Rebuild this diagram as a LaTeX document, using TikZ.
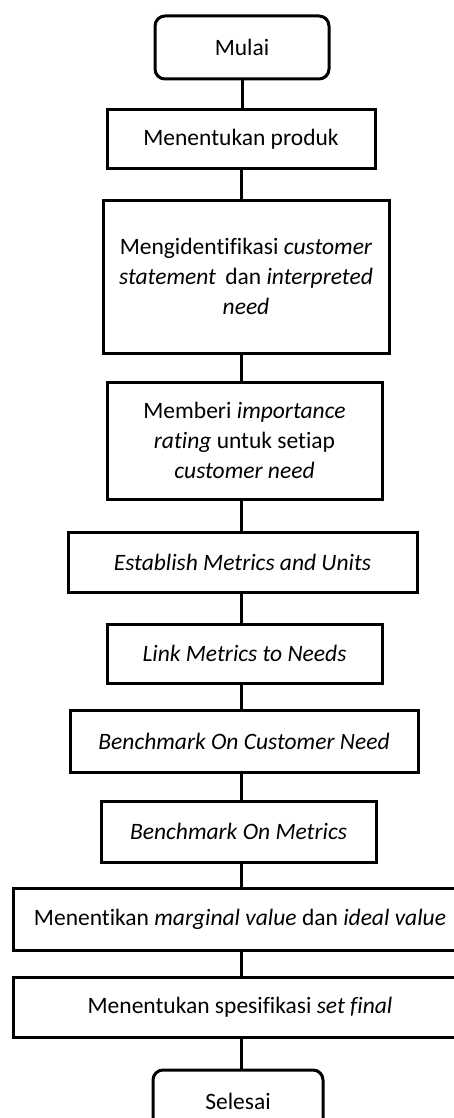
\documentclass[tikz,border=0pt]{standalone}
\usepackage{fontspec}
\setmainfont{Carlito}[Ligatures=NoCommon]
\usetikzlibrary{positioning}
\tikzset{ln/.style={line width=3pt}}
\tikzset{proc/.style={draw, ln, rectangle, align=center, inner sep=0pt, font=\fontsize{23.5}{30}\selectfont}}
\tikzset{term/.style={proc, rounded corners=10pt}}

\begin{document}
\begin{tikzpicture}[x=1pt,y=-1pt]
\useasboundingbox (0,0) rectangle (453,1118);

\node[term, minimum width=174pt, minimum height=63pt] (mulai) at (242,47.5) {Mulai};
\node[proc, minimum width=268pt, minimum height=59pt] (produk) at (241,139.5) {Menentukan produk};
\node[proc, minimum width=286pt, minimum height=153pt] (ident) at (246,276.5)
  {Mengidentifikasi \textit{customer}\\ \textit{statement}\, dan \textit{interpreted}\\ \textit{need}};
\node[proc, minimum width=275pt, minimum height=117pt] (rating) at (244.5,440.5)
  {Memberi \textit{importance}\\ \textit{rating} untuk setiap\\ \textit{customer need}};
\node[proc, minimum width=349pt, minimum height=60pt] (metric) at (242.5,562) {\textit{Establish Metrics and Units}};
\node[proc, minimum width=275pt, minimum height=59pt] (link) at (244.5,653.5) {\textit{Link Metrics to Needs}};
\node[proc, minimum width=348pt, minimum height=62pt] (bcn) at (244,741) {\textit{Benchmark On Customer Need}};
\node[proc, minimum width=275pt, minimum height=61pt] (bom) at (238.5,831.5) {\textit{Benchmark On Metrics}};
\node[proc, minimum width=454pt, minimum height=62pt] (value) at (240,919)
  {Menentikan \textit{marginal value} dan \textit{ideal value}};
\node[proc, minimum width=454pt, minimum height=60pt] (spek) at (240,1007) {Menentukan spesifikasi \textit{set final}};
\node[term, minimum width=170pt, minimum height=63pt] (selesai) at (238,1101.5) {Selesai};

\draw[ln] (mulai.south) -- (mulai.south |- produk.north);
\draw[ln] (produk.south) -- (produk.south |- ident.north);
\draw[ln] (produk.south |- ident.south) -- (produk.south |- rating.north);
\draw[ln] (produk.south |- rating.south) -- (produk.south |- metric.north);
\draw[ln] (produk.south |- metric.south) -- (produk.south |- link.north);
\draw[ln] (produk.south |- link.south) -- (produk.south |- bcn.north);
\draw[ln] (produk.south |- bcn.south) -- (produk.south |- bom.north);
\draw[ln] (produk.south |- bom.south) -- (produk.south |- value.north);
\draw[ln] (produk.south |- value.south) -- (produk.south |- spek.north);
\draw[ln] (produk.south |- spek.south) -- (produk.south |- selesai.north);

\end{tikzpicture}
\end{document}
